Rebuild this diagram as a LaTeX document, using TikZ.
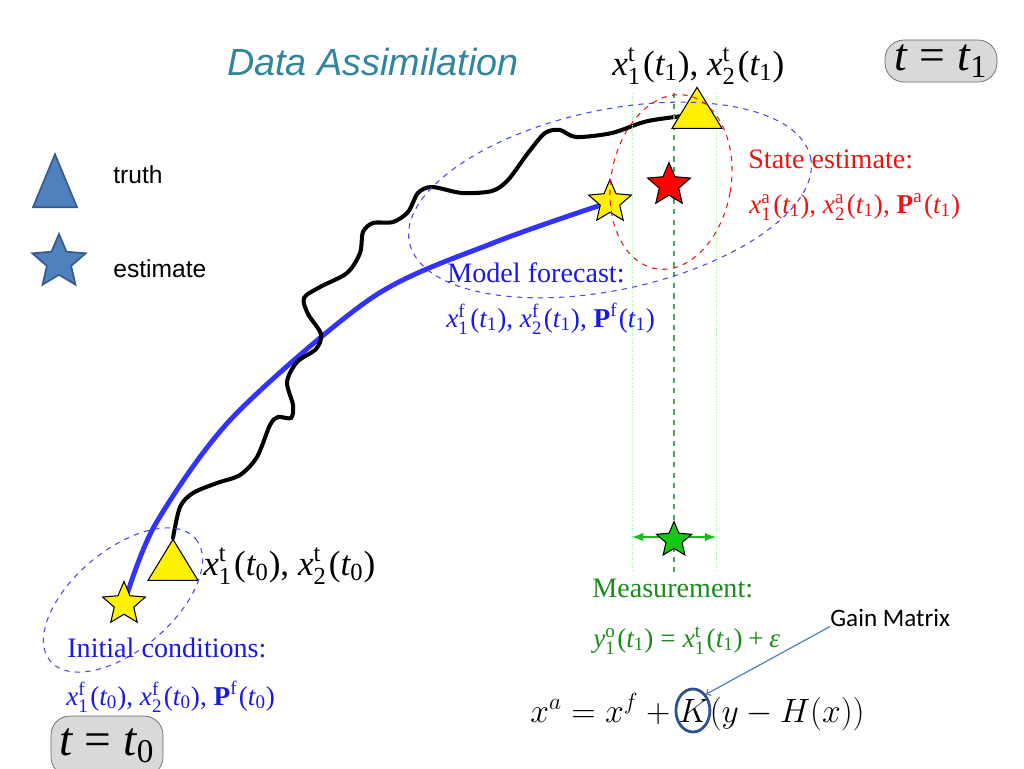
\documentclass[tikz,border=0pt]{standalone}
\usepackage{amsmath}
\usepackage{graphicx}
\usepackage{fontspec}
\newfontfamily\timesf{Liberation Serif}
\newfontfamily\arialf{Liberation Sans}
\newfontfamily\calibrif{Carlito}
\usetikzlibrary{arrows,shapes.geometric,positioning}

\definecolor{titleblue}{RGB}{49,133,156}
\definecolor{legfill}{RGB}{79,129,189}
\definecolor{legedge}{RGB}{56,93,138}
\definecolor{fcblue}{RGB}{25,25,230}
\definecolor{pathblue}{RGB}{51,51,255}
\definecolor{anred}{RGB}{235,20,20}
\definecolor{obsgreen}{RGB}{25,140,25}
\definecolor{arrgreen}{RGB}{20,190,20}
\definecolor{stargreen}{RGB}{20,200,20}
\definecolor{linegreen}{RGB}{70,170,90}
\definecolor{ringblue}{RGB}{47,82,143}
\definecolor{boxgray}{RGB}{217,217,217}

\newcommand{\tit}[1]{\text{\itshape #1}}
\newcommand{\tup}[1]{\text{\upshape #1}}
\newcommand{\xst}[3]{\tit{x}^{\tup{#1}}_{\tup{#2}}\mkern1mu\tup{(}\tit{t}_{\tup{#3}}\tup{)}}
\newcommand{\Pst}[2]{\text{\bfseries P}^{\tup{#1}}\mkern1mu\tup{(}\tit{t}_{\tup{#2}}\tup{)}}
\newcommand{\eqsz}[1]{\scalebox{1.11}{#1}}

\pgfdeclarelayer{bg}
\pgfsetlayers{bg,main}

\tikzset{
  lbl/.style={anchor=base west, inner sep=0pt},
  serif/.style={font=\timesf\fontsize{16}{19}\selectfont},
  mathlbl/.style={font=\timesf\fontsize{15.5}{19}\selectfont},
  bigmath/.style={font=\timesf\fontsize{20}{24}\selectfont},
  eqfont/.style={font=\fontsize{17.28}{21}\selectfont},
  tri/.style={isosceles triangle, shape border rotate=90, isosceles triangle stretches,
    anchor=apex, draw=black, fill=yellow, inner sep=0pt, line width=0.6pt,
    minimum width=1cm, minimum height=0.82cm},
  estar/.style={star, star points=5, star point ratio=2.2, draw=black, line width=0.6pt,
    inner sep=0pt},
  tbox/.style={draw=gray!80!black, fill=boxgray, rounded corners=0.38cm, inner sep=0pt,
    minimum width=2.24cm},
}

\begin{document}
\begin{tikzpicture}[x=0.02cm,y=-0.02cm]

\useasboundingbox (0,0) rectangle (1024,768);
\clip (0,0) rectangle (1024,768);

% title and legend
\node[anchor=base, text=titleblue, font=\arialf\itshape\fontsize{21.5}{26}\selectfont]
  (title) at (373,75) {Data Assimilation};

\node[tri, fill=legfill, draw=legedge, line width=1pt, minimum width=0.88cm,
  minimum height=1.06cm] (legtri) at (55,152) {};
\node[estar, fill=legfill, draw=legedge, line width=1pt, minimum size=1.12cm]
  (legstar) at (59,262) {};
\node[lbl, font=\arialf\fontsize{14}{17}\selectfont] (legtruth) at (113,183) {truth};
\node[lbl, font=\arialf\fontsize{14}{17}\selectfont] (legest) at (113,277) {estimate};

% time boxes
\node[tbox, minimum height=0.84cm, font=\timesf\fontsize{26}{30}\selectfont]
  (tone) at (941,61) {$\tit{t}\mathrel{\tup{=}}\tit{t}_{\tup{1}}$};
\node[tbox, minimum height=1.2cm, font=\timesf\fontsize{27}{31}\selectfont]
  (tzero) at (107,746) {$\tit{t}\mathrel{\tup{=}}\tit{t}_{\tup{0}}$};

% observation spread
\foreach \xx in {632,716}
    \draw[green!50!white, line width=0.5pt, densely dotted] (\xx,93) -- (\xx,572);
\draw[linegreen, line width=0.9pt, dashed] (674,93) -- (674,572);

\coordinate (obsl) at (632,537);
\coordinate (obsr) at (716,537);
\draw[arrgreen, line width=1.2pt, latex-latex] (obsl) -- (obsr);

% truth and estimates
\node[tri] (tribot) at (173,538) {};
\node[tri] (tritop) at (697,86) {};
\node[estar, fill=yellow, minimum size=0.9cm] (starbot) at (124,604) {};
\node[estar, fill=yellow, minimum size=0.9cm] (starfc) at (610,202) {};
\node[estar, fill=red, minimum size=0.9cm] (staran) at (669,185) {};
\node[estar, fill=stargreen, minimum size=0.74cm] (starobs) at (674,540) {};

\begin{pgfonlayer}{bg}
\draw[pathblue, line width=2.8pt, line cap=round] plot[smooth] coordinates {(starbot.center)
  (155,525) (233,417) (373,297) (493,243) (starfc.center)};
\draw[black, line width=2.3pt, line cap=round] plot[smooth] coordinates {(tribot.apex)
  (180,507) (193,493) (217,483) (240,475) (257,457) (270,425) (278,417) (291,418)
  (293,405) (287,382) (297,362) (316,349) (321,334) (308,314) (304,298) (320,287)
  (347,273) (360,253) (363,232) (373,223) (393,222) (408,212) (418,193) (432,187)
  (462,193) (492,191) (508,180) (528,153) (545,133) (560,130) (576,137) (612,133)
  (648,121) (tritop.center)};
\end{pgfonlayer}

% uncertainty ellipses
\draw[fcblue!80!white, line width=0.6pt, dashed, rotate around={40:(123,600)}]
  (123,600) ellipse [x radius=95, y radius=50];
\draw[fcblue!80!white, line width=0.6pt, dashed, rotate around={12:(610,200)}]
  (610,200) ellipse [x radius=205, y radius=90];
\draw[anred, line width=0.6pt, dashed, rotate around={-10:(671,182)}]
  (671,182) ellipse [x radius=60, y radius=88];

% labels
\node[lbl, bigmath] (truthone) at (612,75) {$\xst{t}{1}{1}\tup{, }\xst{t}{2}{1}$};
\node[lbl, bigmath] (truthzero) at (203,575) {$\xst{t}{1}{0}\tup{, }\xst{t}{2}{0}$};

\node[lbl, serif, text=anred] (antitle) at (748,168) {State estimate:};
\node[lbl, mathlbl, text=anred] (anvals) at (749,213)
  {$\xst{a}{1}{1}\tup{, }\xst{a}{2}{1}\tup{, }\Pst{a}{1}$};

\node[lbl, serif, text=fcblue] (fctitle) at (447,282) {Model forecast:};
\node[lbl, mathlbl, text=fcblue] (fcvals) at (446,327)
  {$\xst{f}{1}{1}\tup{, }\xst{f}{2}{1}\tup{, }\Pst{f}{1}$};

\node[lbl, serif, text=fcblue] (ictitle) at (67,657) {Initial conditions:};
\node[lbl, mathlbl, text=fcblue] (icvals) at (66,705)
  {$\xst{f}{1}{0}\tup{, }\xst{f}{2}{0}\tup{, }\Pst{f}{0}$};

\node[lbl, serif, text=obsgreen] (obstitle) at (592,597) {Measurement:};
\node[lbl, mathlbl, text=obsgreen] (obsvals) at (593,647)
  {$\tit{y}^{\tup{o}}_{\tup{1}}\mkern1mu\tup{(}\tit{t}_{\tup{1}}\tup{)}\mathrel{\tup{=}}
   \xst{t}{1}{1}\mathbin{\tup{+}}\tit{ε}$};

% analysis equation
\node[lbl, eqfont] (eqlhs) at (530,722) {\eqsz{$x^a = x^f +{}$}};
\node[lbl, eqfont] (eqk) at (eqlhs.base east) {\eqsz{$K$}};
\node[lbl, eqfont] (eqrhs) at (eqk.base east) {\eqsz{$(y - H(x))$}};
\node[ellipse, draw=ringblue, line width=1.6pt, inner sep=0pt, minimum width=0.68cm,
  minimum height=0.86cm] (kring) at ([xshift=-0.5pt]eqk.center) {};

\node[lbl, font=\calibrif\fontsize{14.3}{17}\selectfont] (gain) at (830,626) {Gain Matrix};
\draw[legfill, line width=0.7pt, ->] (gain.south west) -- (kring.north east);

\end{tikzpicture}
\end{document}
